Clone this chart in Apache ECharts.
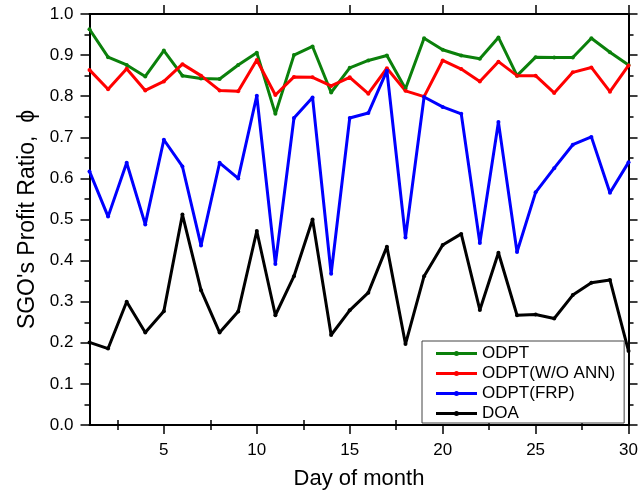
<!DOCTYPE html>
<html>
<head>
<meta charset="utf-8">
<script src="https://cdn.jsdelivr.net/npm/echarts@6/dist/echarts.min.js"></script>
<style>html,body{margin:0;padding:0;background:#fff;}#c{width:641px;height:495px;}</style>
</head>
<body>
<div id="c"></div>
<script>
const days = [1,2,3,4,5,6,7,8,9,10,11,12,13,14,15,16,17,18,19,20,21,22,23,24,25,26,27,28,29,30];
const seriesNames = ['ODPT','ODPT(W/O ANN)','ODPT(FRP)','DOA'];
const odpt  = [0.963,0.895,0.876,0.848,0.911,0.850,0.843,0.842,0.876,0.906,0.757,0.900,0.921,0.809,0.869,0.887,0.899,0.818,0.941,0.913,0.899,0.891,0.943,0.850,0.895,0.894,0.894,0.941,0.907,0.876];
const woAnn = [0.864,0.817,0.867,0.814,0.836,0.878,0.850,0.814,0.812,0.888,0.803,0.847,0.846,0.825,0.846,0.806,0.868,0.813,0.799,0.887,0.866,0.836,0.884,0.850,0.850,0.808,0.858,0.870,0.811,0.875];
const frp   = [0.617,0.507,0.638,0.488,0.694,0.629,0.437,0.638,0.600,0.801,0.392,0.747,0.797,0.368,0.747,0.759,0.862,0.456,0.798,0.774,0.757,0.443,0.737,0.421,0.566,0.625,0.682,0.701,0.565,0.639];
const doa   = [0.201,0.186,0.300,0.225,0.277,0.512,0.328,0.225,0.276,0.472,0.267,0.362,0.500,0.219,0.279,0.322,0.434,0.197,0.362,0.438,0.465,0.280,0.419,0.267,0.269,0.259,0.316,0.346,0.353,0.180];
const xMajorTicks = [5,10,15,20,25,30];
const xMinorTicks = [2.5,7.5,12.5,17.5,22.5,27.5];

const FONT = 'Liberation Sans, Arial, sans-serif';
const colors = ['#0b800b','#ff0000','#0000ff','#000000'];
const values = [odpt, woAnn, frp, doa];

const axisLine = {show:true, onZero:false, lineStyle:{color:'#000', width:2}};
function xAx(pos, ticks, len, line, labels){
  return {
    type:'value', min:1, max:30, position:pos,
    axisLine: line ? axisLine : {show:false},
    axisTick:{show:true, customValues:ticks, length:len, inside:false, lineStyle:{color:'#000', width:1.5}},
    axisLabel: labels ? {show:true, customValues:xMajorTicks, fontSize:17, color:'#000', fontFamily:FONT, margin:17} : {show:false},
    splitLine:{show:false}
  };
}
const xAxes = [
  xAx('bottom', xMajorTicks, 9, true, true),
  xAx('bottom', xMinorTicks, 5, false, false),
  xAx('top', xMajorTicks, 9, true, false),
  xAx('top', xMinorTicks, 5, false, false)
];
xAxes[0].name = 'Day of month';
xAxes[0].nameLocation = 'middle';
xAxes[0].nameGap = 43;
xAxes[0].nameTextStyle = {fontSize:22, color:'#000', fontFamily:FONT};

function yAx(pos, labels){
  return {
    type:'value', min:0, max:1, interval:0.1, position:pos,
    axisLine: axisLine,
    axisTick:{show:true, length:9, inside:false, lineStyle:{color:'#000', width:1.5}},
    minorTick:{show:true, splitNumber:2, length:5, lineStyle:{color:'#000', width:1.5}},
    axisLabel: labels ? {show:true, fontSize:17, color:'#000', fontFamily:FONT, margin:16, formatter:v=>v.toFixed(1)} : {show:false},
    splitLine:{show:false}, minorSplitLine:{show:false}
  };
}
const yAxes = [yAx('left', true), yAx('right', false)];
yAxes[0].name = "SGO's Profit Ratio,  \u03D5";
yAxes[0].nameLocation = 'middle';
yAxes[0].nameGap = 48;
yAxes[0].nameTextStyle = {fontSize:23, color:'#000', fontFamily:FONT};

const legendIcon = 'path://M0,1h41v3h-41z M18,2.5a2.5,2.5 0 1,1 5,0a2.5,2.5 0 1,1 -5,0z';

const chart = echarts.init(document.getElementById('c'), null, {renderer:'canvas'});
chart.setOption({
  animation:false,
  backgroundColor:'#fff',
  grid:{left:89.5, right:11.5, top:14, bottom:70, containLabel:false},
  xAxis: xAxes,
  yAxis: yAxes,
  legend:{
    orient:'vertical', left:422, top:341,
    padding:[4,9,1,14], itemWidth:41, itemHeight:5, itemGap:3,
    backgroundColor:'#fff', borderColor:'#444', borderWidth:1, borderRadius:0,
    icon: legendIcon,
    itemStyle:{borderWidth:0},
    textStyle:{fontSize:17, color:'#000', fontFamily:FONT},
    data: seriesNames
  },
  series: seriesNames.map((n,i)=>({
    name:n, type:'line', xAxisIndex:0, yAxisIndex:0,
    data: days.map((d,j)=>[d, values[i][j]]),
    symbol:'circle', symbolSize:4, showAllSymbol:true,
    lineStyle:{color:colors[i], width:3},
    itemStyle:{color:colors[i]},
    clip:true
  }))
});
</script>
</body>
</html>
